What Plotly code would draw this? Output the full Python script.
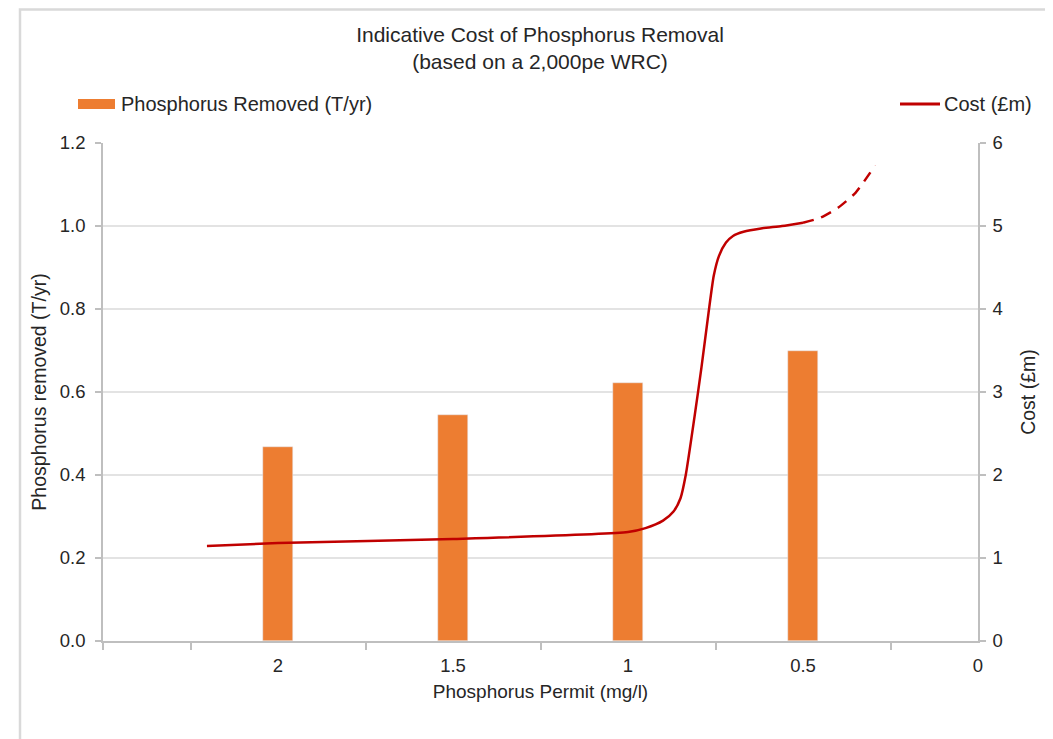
import plotly.graph_objects as go

# Data
permit_bars = [2.0, 1.5, 1.0, 0.5]
p_removed = [0.467, 0.545, 0.621, 0.700]

cost_x_solid = [2.203, 2.0, 1.5, 1.0, 0.95, 0.9, 0.87, 0.85, 0.835, 0.81, 0.79, 0.77, 0.755, 0.74, 0.72, 0.70, 0.67, 0.62, 0.56, 0.5]
cost_y_solid = [1.145, 1.18, 1.229, 1.313, 1.36, 1.45, 1.56, 1.72, 2.0, 2.7, 3.3, 3.95, 4.4, 4.64, 4.80, 4.88, 4.93, 4.97, 5.00, 5.04]
cost_x_dash = [0.5, 0.45, 0.40, 0.35, 0.294]
cost_y_dash = [5.04, 5.10, 5.22, 5.40, 5.73]

x_tick_vals = [2, 1.5, 1, 0.5, 0]
x_tick_text = ["2", "1.5", "1", "0.5", "0"]
x_minor_vals = [2.5, 2.25, 1.75, 1.25, 0.75, 0.25]

FONT = "Liberation Sans, Arial, sans-serif"
TXT = "#262626"
AX = "#bfbfbf"
ORANGE = "#ED7D31"
RED = "#C00000"

fig = go.Figure()
fig.add_trace(go.Bar(x=permit_bars, y=p_removed, width=0.083, marker_color=ORANGE,
                     name="Phosphorus Removed (T/yr)", showlegend=False))
fig.add_trace(go.Scatter(x=cost_x_solid, y=cost_y_solid, mode="lines", yaxis="y2",
                         line=dict(color=RED, width=2.5, shape="spline", smoothing=0.6),
                         name="Cost (£m)", showlegend=False))
fig.add_trace(go.Scatter(x=cost_x_dash, y=cost_y_dash, mode="lines", yaxis="y2",
                         line=dict(color=RED, width=2.5, dash="11px,8px", shape="spline", smoothing=0.6),
                         name="Cost (£m) est.", showlegend=False))

OFF = 8  # page body margin
W, H = 1053 - OFF, 739 - OFF
# plot area in page pixels: x 103..978, y 143..641
L = 103 - OFF
T = 143 - OFF
R = W - (978 - OFF)
B = H - (641 - OFF)
pw, ph = W - L - R, H - T - B

def px(xp):
    return (xp - OFF - L) / pw

def py(yp):
    return (H - B - (yp - OFF)) / ph

shapes = [
    # outer frame (left and top)
    dict(type="path", xref="paper", yref="paper",
         path=f"M {px(20)} {py(760)} L {px(20)} {py(OFF + 1.5)} L {px(1080)} {py(OFF + 1.5)}",
         line=dict(color="#d9d9d9", width=2.5)),
    # legend swatches
    dict(type="rect", xref="paper", yref="paper", x0=px(78), x1=px(115), y0=py(109), y1=py(99),
         fillcolor=ORANGE, line=dict(width=0)),
    dict(type="line", xref="paper", yref="paper", x0=px(900), x1=px(940), y0=py(104), y1=py(104),
         line=dict(color=RED, width=3)),
]

annotations = [
    dict(text="Phosphorus Removed (T/yr)", xref="paper", yref="paper", x=px(119), y=py(104),
         xanchor="left", yanchor="middle", showarrow=False, font=dict(size=20, color=TXT, family=FONT)),
    dict(text="Cost (£m)", xref="paper", yref="paper", x=px(942), y=py(104),
         xanchor="left", yanchor="middle", showarrow=False, font=dict(size=20, color=TXT, family=FONT)),
]

fig.update_layout(
    width=W, height=H,
    margin=dict(l=L, r=R, t=T, b=B),
    paper_bgcolor="white", plot_bgcolor="white",
    font=dict(family=FONT, size=18, color=TXT),
    title=dict(text="Indicative Cost of Phosphorus Removal<br>(based on a 2,000pe WRC)",
               x=(540 - OFF) / W, xanchor="center", y=1 - (42 - OFF) / H, yanchor="top",
               font=dict(size=21, color=TXT, family=FONT)),
    bargap=0,
    xaxis=dict(range=[2.5, 0], tickvals=x_tick_vals, ticktext=x_tick_text, ticks="outside",
               ticklen=7, tickcolor="rgba(0,0,0,0)",
               showline=True, linecolor=AX, linewidth=1.5, showgrid=False, zeroline=False,
               minor=dict(tickmode="array", tickvals=x_minor_vals, ticks="outside", ticklen=7,
                          tickcolor=AX, tickwidth=1.5, showgrid=False),
               tickfont=dict(size=18.5, color=TXT),
               title=dict(text="Phosphorus Permit (mg/l)", font=dict(size=19, color=TXT), standoff=10)),
    yaxis=dict(range=[0, 1.2], dtick=0.2, tickformat=".1f", showgrid=True, gridcolor="#e3e3e3",
               gridwidth=1.5, showline=True, linecolor=AX, linewidth=1.5, ticks="outside",
               ticklen=6, tickcolor=AX, tickwidth=1.5, zeroline=False, ticklabelstandoff=6,
               tickfont=dict(size=18.5, color=TXT),
               title=dict(text="Phosphorus removed (T/yr)", font=dict(size=19.5, color=TXT), standoff=8)),
    yaxis2=dict(range=[0, 6], dtick=1, overlaying="y", side="right", showgrid=False,
                showline=True, linecolor=AX, linewidth=1.5, ticks="outside", ticklen=6,
                tickcolor=AX, tickwidth=1.5, zeroline=False, ticklabelstandoff=3,
                tickfont=dict(size=18.5, color=TXT),
                title=dict(text="Cost (£m)", font=dict(size=19.5, color=TXT), standoff=20)),
    shapes=shapes,
    annotations=annotations,
    showlegend=False,
)

fig.write_html("out.html")
